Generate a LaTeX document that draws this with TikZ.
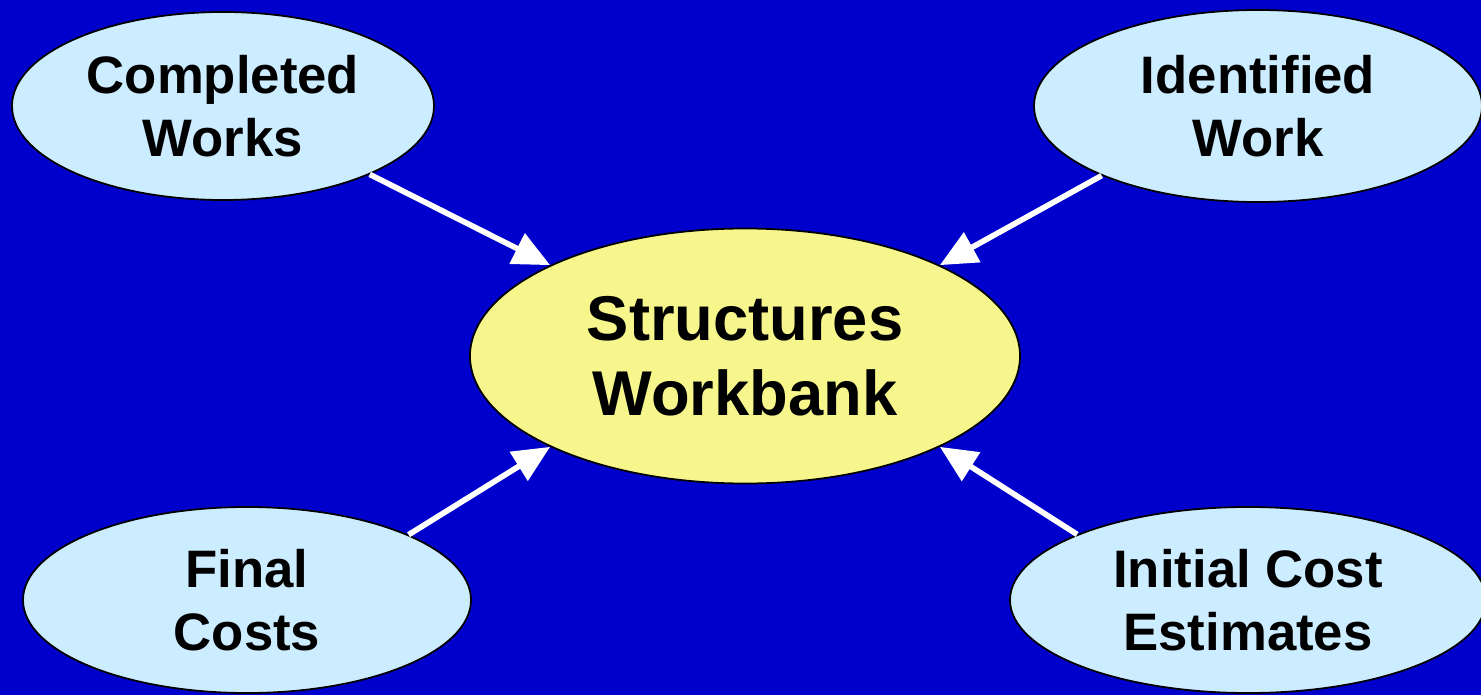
\documentclass[tikz,border=0pt]{standalone}
\usepackage{fontspec}
\setmainfont{Liberation Sans}
\usepackage{tikz}
\usetikzlibrary{arrows.meta,shapes.geometric}

\definecolor{bgblue}{RGB}{0,0,204}
\definecolor{bubble}{RGB}{204,236,255}
\definecolor{bankyellow}{RGB}{246,246,140}

\begin{document}
\begin{tikzpicture}[>={Triangle[length=0.74cm,width=0.66cm]},
    source/.style={ellipse, draw=black, line width=1pt, fill=bubble,
        inner sep=0pt, align=center,
        font=\fontsize{30}{35.5}\selectfont\bfseries},
    bank/.style={source, fill=bankyellow,
        font=\fontsize{36}{42.5}\selectfont\bfseries},
    feed/.style={white, line width=3.2pt, ->}]

    %% Background
    \useasboundingbox (0,0) rectangle (29.62,13.9);
    \fill[bgblue] (0,0) rectangle (29.62,13.9);

    % Workbank
    \node[bank, minimum width=11cm, minimum height=5.1cm] (bank) at (14.9,6.78)
    {Structures\\Workbank};

    % Sources
    \node[source, minimum width=8.44cm, minimum height=3.76cm] (completed) at (4.46,11.78)
    {Completed\\Works};
    \node[source, minimum width=8.96cm, minimum height=3.84cm] (identified) at (25.16,11.78)
    {Identified\\Work};
    \node[source, minimum width=8.96cm, minimum height=3.72cm] (final) at (4.94,1.9)
    {Final\\Costs};
    \node[source, minimum width=9.52cm, minimum height=3.72cm] (initial) at (24.96,1.9)
    {Initial Cost\\Estimates};

    %Arrows
    \draw[feed] (completed.335) -- (bank.155);
    \draw[feed] (identified.204) -- (bank.25);
    \draw[feed] (final.22) -- (bank.205);
    \draw[feed] (initial.159) -- (bank.335);

\end{tikzpicture}
\end{document}
